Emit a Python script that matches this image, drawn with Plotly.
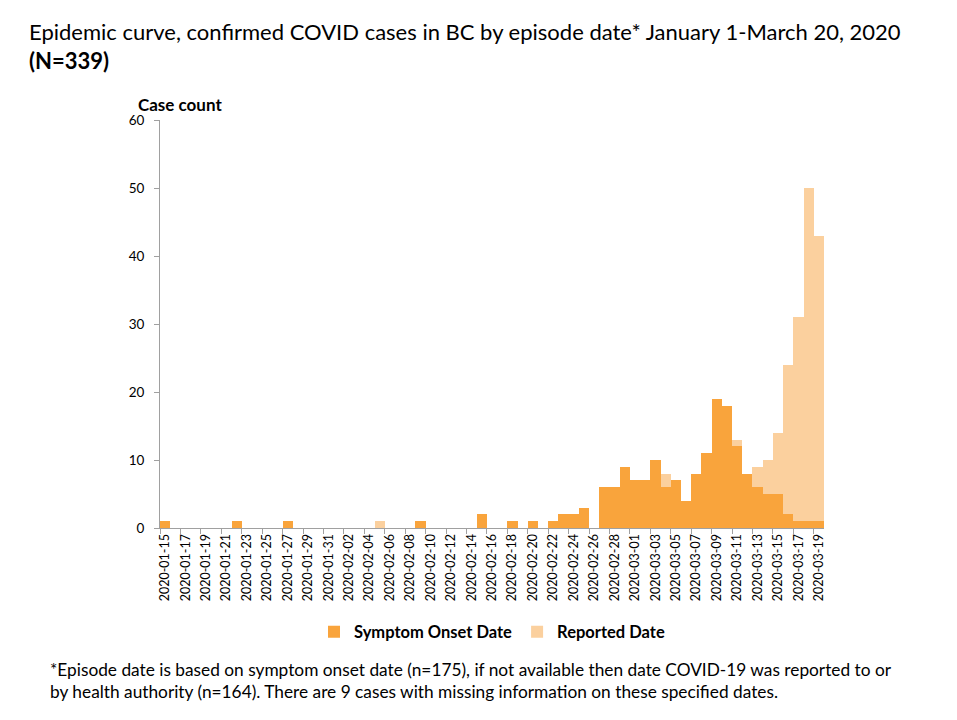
import pandas as pd
import plotly.graph_objects as go

# episode dates, one bar per day
dates = [d.strftime('%Y-%m-%d') for d in pd.date_range('2020-01-15', '2020-03-19')]

# cases by symptom onset date
onset = [1, 0, 0, 0, 0, 0, 0, 1, 0, 0, 0, 0, 1, 0, 0, 0, 0,          # Jan 15-31
         0, 0, 0, 0, 0, 0, 0, 0, 1, 0, 0, 0, 0, 0, 2, 0, 0, 1, 0, 1,  # Feb 1-20
         0, 1, 2, 2, 3, 0, 6, 6, 9,                                   # Feb 21-29
         7, 7, 10, 6, 7, 4, 8, 11, 19, 18, 12, 8, 6, 5, 5, 2, 1, 1, 1]  # Mar 1-19

# cases by reported date (onset not available)
reported = [0, 0, 0, 0, 0, 0, 0, 0, 0, 0, 0, 0, 0, 0, 0, 0, 0,
            0, 0, 0, 0, 1, 0, 0, 0, 0, 0, 0, 0, 0, 0, 0, 0, 0, 0, 0, 0,
            0, 0, 0, 0, 0, 0, 0, 0, 0,
            0, 0, 0, 2, 0, 0, 0, 0, 0, 0, 1, 0, 3, 5, 9, 22, 30, 49, 42]

FONT = 'Lato'

fig = go.Figure()
fig.add_trace(go.Bar(x=dates, y=onset, name='<b>Symptom Onset Date</b>',
                     marker=dict(color='#F9A43C', line=dict(width=0))))
fig.add_trace(go.Bar(x=dates, y=reported, name='<b>Reported Date</b>',
                     marker=dict(color='#FBD09E', line=dict(width=0))))

# page body adds 8px, so the figure is 8px smaller and margins shifted
fig.update_layout(
    barmode='stack',
    bargap=0,
    width=949, height=712,
    margin=dict(l=152, r=133, t=112, b=192),
    plot_bgcolor='white',
    paper_bgcolor='white',
    font=dict(family=FONT, color='#000000'),
    legend=dict(
        orientation='h',
        x=0.5, xanchor='center',
        y=-0.212, yanchor='top',
        font=dict(family=FONT, size=16.5, color='#000000'),
        traceorder='normal',
        itemwidth=30,
    ),
)

fig.update_xaxes(
    type='category',
    range=[-0.5, len(dates) - 0.5],
    dtick=2,
    tickangle=-90,
    tickson='boundaries',
    ticks='outside', ticklen=5, tickcolor='#A0A0A0',
    showline=True, linecolor='#A0A0A0', linewidth=1,
    showgrid=False,
    tickfont=dict(family=FONT, size=12.5, color='#000000'),
)

fig.update_yaxes(
    range=[0, 60],
    dtick=10,
    ticks='outside', ticklen=5, tickcolor='#A0A0A0',
    ticklabelstandoff=7,
    showline=True, linecolor='#A0A0A0', linewidth=1,
    showgrid=False,
    zeroline=False,
    tickfont=dict(family=FONT, size=13.5, color='#000000'),
)

fig.add_annotation(
    text='Epidemic curve, confirmed COVID cases in BC by episode date* January 1-March 20, 2020'
         '<br><b>(N=339)</b>',
    xref='paper', yref='paper',
    x=-0.2, y=1.255, xanchor='left', yanchor='top', align='left',
    showarrow=False, font=dict(family=FONT, size=22, color='#000000'),
)

fig.add_annotation(
    text='<b>Case count</b>', xref='paper', yref='paper',
    x=-0.036, y=1.037, xanchor='left', yanchor='middle',
    showarrow=False, font=dict(family=FONT, size=17, color='#000000'),
)

fig.add_annotation(
    text='*Episode date is based on symptom onset date (n=175), if not available then date COVID-19 was reported to or'
         '<br>by health authority (n=164). There are 9 cases with missing information on these specified dates.',
    xref='paper', yref='paper',
    x=-0.168, y=-0.315, xanchor='left', yanchor='top', align='left',
    showarrow=False, font=dict(family=FONT, size=17.3, color='#000000'),
)

fig.write_html('out.html')
